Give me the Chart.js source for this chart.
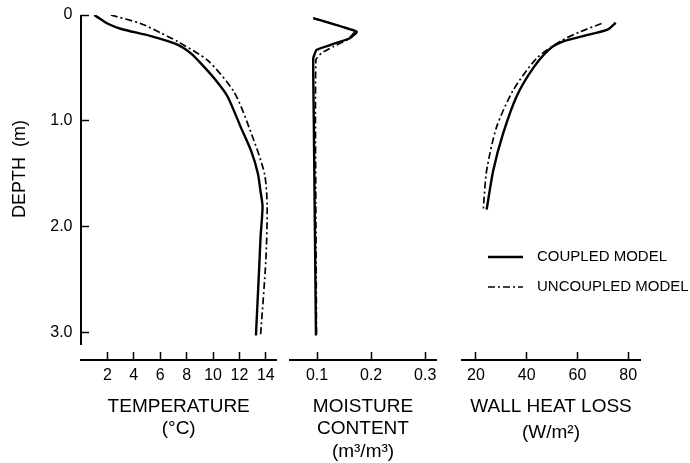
<!DOCTYPE html>
<html>
<head>
<meta charset="utf-8">
<script src="https://cdn.jsdelivr.net/npm/chart.js@4.4.0/dist/chart.umd.min.js"></script>
<style>
  html, body { margin: 0; padding: 0; background: #fff; }
  #wrap { position: relative; width: 690px; height: 463px; overflow: hidden; }
  canvas { position: absolute; top: 0; }
</style>
</head>
<body>
<div id="wrap">
  <canvas id="cTemp"  width="285" height="463" style="left:0"></canvas>
  <canvas id="cMoist" width="170" height="463" style="left:285px"></canvas>
  <canvas id="cHeat"  width="235" height="463" style="left:455px"></canvas>
</div>
<script>
// ---------- series names ----------
const seriesLabels = ['COUPLED MODEL', 'UNCOUPLED MODEL'];

// ---------- depth axis (m) ----------
const depthTicks = [0, 1, 2, 3];
const depthTickLabels = ['0', '1.0', '2.0', '3.0'];
const depthAxisEnd = 3.12;   // where the drawn depth axis line stops

// ---------- temperature profiles (°C vs depth m) ----------
const tempTicks = [2, 4, 6, 8, 10, 12, 14];
const tempTickLabels = ['2', '4', '6', '8', '10', '12', '14'];
const tempCoupledDepth = [0, 0.04, 0.08, 0.13, 0.20, 0.28, 0.36, 0.46, 0.63, 0.77, 1.06, 1.29, 1.50, 1.67, 1.81, 2.10, 2.38, 3.03];
const tempCoupled      = [1.0, 1.5, 2.0, 3.0, 5.3, 7.3, 8.3, 9.1, 10.3, 11.1, 12.1, 12.9, 13.4, 13.6, 13.75, 13.6, 13.5, 13.25];
const tempUncoupledDepth = [0, 0.08, 0.17, 0.25, 0.43, 0.73, 1.12, 1.50, 1.81, 2.32, 3.03];
const tempUncoupled      = [2.26, 4.5, 6.05, 7.3, 9.6, 11.6, 12.9, 13.9, 14.1, 14.0, 13.6];

// ---------- moisture content profiles (m3/m3 vs depth m) ----------
const moistTicks = [0.1, 0.2, 0.3];
const moistTickLabels = ['0.1', '0.2', '0.3'];
const moistCoupledDepth = [0.03, 0.158, 0.22, 0.284, 0.33, 0.41, 1.0, 2.0, 3.03];
const moistCoupled      = [0.093, 0.1735, 0.161, 0.124, 0.099, 0.093, 0.094, 0.096, 0.098];
const moistUncoupledDepth = [0.03, 0.15, 0.23, 0.30, 0.36, 0.42, 1.0, 2.0, 3.03];
const moistUncoupled      = [0.093, 0.170, 0.157, 0.130, 0.108, 0.098, 0.097, 0.098, 0.099];

// ---------- wall heat loss profiles (W/m2 vs depth m) ----------
const heatTicks = [20, 40, 60, 80];
const heatTickLabels = ['20', '40', '60', '80'];
const heatCoupledDepth = [0.073, 0.135, 0.20, 0.25, 0.32, 0.50, 0.77, 1.12, 1.47, 1.84];
const heatCoupled      = [75.1, 72.1, 62.2, 54.4, 49.1, 42.6, 36.0, 30.7, 26.8, 24.2];
const heatUncoupledDepth = [0.08, 0.16, 0.25, 0.41, 0.71, 1.06, 1.47, 1.83];
const heatUncoupled      = [69.5, 61.0, 53.1, 43.9, 34.7, 28.1, 24.2, 22.9];

// ---------- shared look ----------
const FONT = "'Liberation Sans', Arial, Helvetica, sans-serif";
Chart.defaults.font.family = FONT;
Chart.defaults.color = '#000';
const INK = '#000';
const DASH_DOT = [7, 3, 2, 3];

function toPoints(values, depths) {
  return values.map((v, i) => ({ x: v, y: depths[i] }));
}

// Depth axis line stops a little above the value axis, so it is drawn here.
const depthAxisLine = {
  id: 'depthAxisLine',
  afterDraw(chart) {
    const y = chart.scales.y;
    if (!y.options.display) return;
    const ctx = chart.ctx;
    ctx.save();
    ctx.strokeStyle = INK;
    ctx.lineWidth = 2;
    ctx.beginPath();
    ctx.moveTo(y.right, y.getPixelForValue(0));
    ctx.lineTo(y.right, y.getPixelForValue(depthAxisEnd));
    ctx.stroke();
    // axis title
    ctx.fillStyle = INK;
    ctx.font = '18px ' + FONT;
    ctx.textAlign = 'center';
    ctx.textBaseline = 'middle';
    ctx.translate(20, chart.chartArea.top + 154);
    ctx.rotate(-Math.PI / 2);
    ctx.fillText('DEPTH  (m)', 0, 0);
    ctx.restore();
  }
};

// Key for the two model runs, placed inside the heat-loss panel.
const modelKey = {
  id: 'modelKey',
  afterDraw(chart) {
    const ctx = chart.ctx;
    const area = chart.chartArea;
    const x0 = area.left + 26, x1 = area.left + 61, tx = area.left + 75;
    ctx.save();
    ctx.font = '15px ' + FONT;
    ctx.textBaseline = 'middle';
    ctx.textAlign = 'left';
    ctx.fillStyle = INK;
    chart.data.datasets.forEach((ds, i) => {
      const yy = area.top + 242 + i * 30;
      ctx.strokeStyle = ds.borderColor;
      ctx.lineWidth = ds.borderWidth;
      ctx.setLineDash(ds.borderDash || []);
      ctx.beginPath();
      ctx.moveTo(x0, yy);
      ctx.lineTo(x1, yy);
      ctx.stroke();
      ctx.fillText(ds.label, tx, yy);
    });
    ctx.restore();
  }
};

function makePanel(id, p) {
  return new Chart(document.getElementById(id), {
    type: 'scatter',
    data: {
      datasets: [
        {
          label: seriesLabels[0],
          data: toPoints(p.coupled, p.coupledDepth),
          showLine: true, borderColor: INK, borderWidth: 2.4,
          pointRadius: 0, tension: p.tension, fill: false
        },
        {
          label: seriesLabels[1],
          data: toPoints(p.uncoupled, p.uncoupledDepth),
          showLine: true, borderColor: INK, borderWidth: 1.7, borderDash: DASH_DOT,
          pointRadius: 0, tension: p.tension, fill: false
        }
      ]
    },
    options: {
      responsive: false,
      animation: false,
      events: [],
      layout: { padding: { top: 15, bottom: 0, left: p.padLeft, right: p.padRight } },
      plugins: { legend: { display: false }, tooltip: { enabled: false } },
      scales: {
        x: {
          type: 'linear',
          position: 'bottom',
          min: p.min, max: p.max,
          afterBuildTicks: (s) => { s.ticks = p.ticks.map(v => ({ value: v })); },
          afterFit: (s) => { s.height = 103; s.paddingLeft = 0; s.paddingRight = 0; },
          ticks: {
            autoSkip: false, maxRotation: 0, padding: 14,
            font: { size: 16 }, color: INK,
            callback: (v) => p.tickLabels[p.ticks.indexOf(v)]
          },
          grid: { drawOnChartArea: false, drawTicks: true, tickLength: -8, tickWidth: 1.5, tickColor: INK },
          border: { display: true, color: INK, width: 2 },
          title: {
            display: true, text: p.title, color: INK,
            font: { size: 19, lineHeight: p.titleLine + 'px' },
            padding: { top: 0, bottom: p.titlePad }
          }
        },
        y: {
          type: 'linear',
          display: p.showDepth,
          reverse: true,
          min: 0, max: 3.262,
          afterBuildTicks: (s) => { s.ticks = depthTicks.map(v => ({ value: v })); },
          afterFit: (s) => { s.width = p.showDepth ? 81 : 0; s.paddingTop = 0; s.paddingBottom = 0; },
          ticks: {
            autoSkip: false, padding: 16.5,
            font: { size: 16 }, color: INK,
            callback: (v) => depthTickLabels[depthTicks.indexOf(v)]
          },
          grid: { drawOnChartArea: false, drawTicks: true, tickLength: -8, tickWidth: 1.5, tickColor: INK },
          border: { display: false }
        }
      }
    },
    plugins: p.plugins
  });
}

makePanel('cTemp', {
  coupled: tempCoupled, coupledDepth: tempCoupledDepth,
  uncoupled: tempUncoupled, uncoupledDepth: tempUncoupledDepth,
  ticks: tempTicks, tickLabels: tempTickLabels,
  min: 0, max: 14.8, padLeft: 0, padRight: 8.6, tension: 0.25,
  title: ['TEMPERATURE', '(°C)'], titleLine: 22, titlePad: 23,
  showDepth: true, plugins: [depthAxisLine]
});

makePanel('cMoist', {
  coupled: moistCoupled, coupledDepth: moistCoupledDepth,
  uncoupled: moistUncoupled, uncoupledDepth: moistUncoupledDepth,
  ticks: moistTicks, tickLabels: moistTickLabels,
  min: 0.05, max: 0.32, padLeft: 5, padRight: 19, tension: 0.1,
  title: ['MOISTURE', 'CONTENT', '(m³/m³)'], titleLine: 22.5, titlePad: 0,
  showDepth: false, plugins: []
});

makePanel('cHeat', {
  coupled: heatCoupled, coupledDepth: heatCoupledDepth,
  uncoupled: heatUncoupled, uncoupledDepth: heatUncoupledDepth,
  ticks: heatTicks, tickLabels: heatTickLabels,
  min: 14.48, max: 84.67, padLeft: 7, padRight: 50, tension: 0.25,
  title: ['WALL HEAT LOSS', '(W/m²)'], titleLine: 26, titlePad: 17,
  showDepth: false, plugins: [modelKey]
});
</script>
</body>
</html>
